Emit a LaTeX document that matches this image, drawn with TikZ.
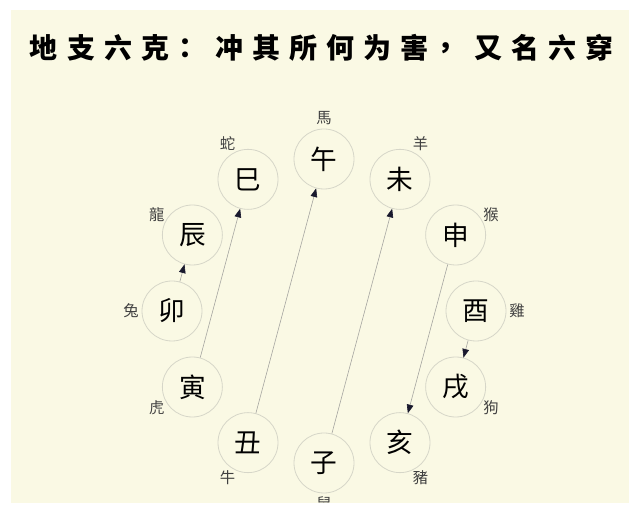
\documentclass[tikz,border=0pt]{standalone}
\usepackage{fontspec}
\newfontfamily\cjk{Noto Sans CJK TC}
\newfontfamily\cjktitle{Noto Sans CJK SC}
\usetikzlibrary{arrows.meta}

\definecolor{paper}{RGB}{250,249,228}
\definecolor{ringgray}{RGB}{214,214,200}
\definecolor{linegray}{RGB}{165,165,160}
\definecolor{tipink}{RGB}{25,25,45}

\tikzset{
	branch/.style={circle, draw=ringgray, line width=0.6pt, fill=paper, minimum size=45pt, inner sep=0pt, font=\cjk\fontsize{20}{20}\selectfont},
	animal/.style={inner sep=0pt, text=black!75, font=\cjk\fontsize{11.5}{11.5}\selectfont},
	harm/.style={draw=linegray, line width=0.45pt, -{Triangle[length=6.5pt,width=5pt,color=tipink]}},
}

\begin{document}
\begin{tikzpicture}[x=0.75pt, y=0.75pt]
		\useasboundingbox (0,0) rectangle (640,514);
		\fill[paper] (11,11) rectangle (629,504);

		% title, one glyph per slot
		\foreach \ch [count=\i from 0] in {地,支,六,克,：,冲,其,所,何,为,害,，,又,名,六,穿} {
			\node[font=\cjktitle\bfseries\fontsize{21}{21}\selectfont] (t\i) at (44+37*\i, 466) {\ch};
		}

		% the twelve branches on a ring
		\begin{scope}[shift={(324,203)}]
			\clip (-313,-192) rectangle (305,301);
			\foreach \n/\c/\a/\t in {wu/午/90/馬, wei/未/60/羊, shen/申/30/猴, you/酉/0/雞,
				xu/戌/-30/狗, hai/亥/-60/豬, zi/子/-90/鼠, chou/丑/-120/牛,
				yin/寅/-150/虎, mao/卯/180/兔, chen/辰/150/龍, si/巳/120/蛇} {
				\node[branch] (\n) at (\a:152) {\c};
				\node[animal] (\n-a) at (\a:193) {\t};
			}
		\end{scope}

		\draw[harm] (mao) -- (chen);
		\draw[harm] (yin) -- (si);
		\draw[harm] (chou) -- (wu);
		\draw[harm] (zi) -- (wei);
		\draw[harm] (shen) -- (hai);
		\draw[harm] (you) -- (xu);
	\end{tikzpicture}
\end{document}
